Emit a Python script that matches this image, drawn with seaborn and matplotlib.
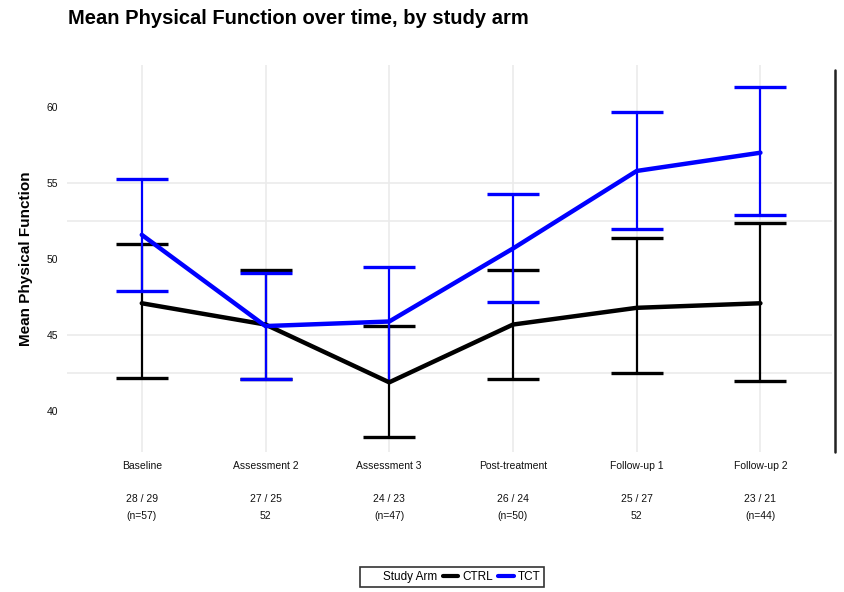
import matplotlib
matplotlib.use("Agg")
import matplotlib.pyplot as plt
from matplotlib.lines import Line2D
import seaborn as sns
import pandas as pd
import numpy as np

# ---- data ----
timepoints = ["Baseline", "Assessment 2", "Assessment 3", "Post-treatment", "Follow-up 1", "Follow-up 2"]
counts_line1 = ["28 / 29", "27 / 25", "24 / 23", "26 / 24", "25 / 27", "23 / 21"]
counts_line2 = ["(n=57)", "52", "(n=47)", "(n=50)", "52", "(n=44)"]
arms = ["CTRL", "TCT"]

ctrl_mean = [47.1, 45.7, 41.9, 45.7, 46.8, 47.1]
ctrl_low = [42.2, 42.1, 38.3, 42.1, 42.5, 42.0]
ctrl_high = [51.0, 49.3, 45.6, 49.3, 51.4, 52.4]

tct_mean = [51.6, 45.6, 45.9, 50.7, 55.8, 57.0]
tct_low = [47.9, 42.1, 41.95, 47.2, 52.0, 52.9]
tct_high = [55.3, 49.1, 49.5, 54.3, 59.7, 61.3]

y_ticks = [40, 45, 50, 55, 60]
grid_y = [42.5, 45, 52.5, 55]

colors = {"CTRL": "#000000", "TCT": "#0000ff"}

df = pd.DataFrame({
    "pos": list(range(len(timepoints))) * 2,
    "mean": ctrl_mean + tct_mean,
    "low": ctrl_low + tct_low,
    "high": ctrl_high + tct_high,
    "arm": [arms[0]] * len(timepoints) + [arms[1]] * len(timepoints),
})

sns.set_theme(style="white")
plt.rcParams["font.family"] = ["Liberation Sans", "DejaVu Sans"]
plt.rcParams["text.color"] = "#000000"

fig = plt.figure(figsize=(8.44, 5.92), dpi=100)
ax = fig.add_axes([0.079, 0.236, 0.907, 0.654])

# gridlines
for gy in grid_y:
    ax.axhline(gy, color="#ebebeb", lw=1.2, zorder=0)
for gx in range(len(timepoints)):
    ax.axvline(gx, color="#ebebeb", lw=1.2, zorder=0)

# error bars
for arm in arms:
    sub = df[df["arm"] == arm]
    eb = ax.errorbar(sub["pos"], sub["mean"],
                     yerr=[sub["mean"] - sub["low"], sub["high"] - sub["mean"]],
                     fmt="none", ecolor=colors[arm], elinewidth=1.6,
                     capsize=19, capthick=2.4, zorder=2)
    if arm == "TCT":
        # the lower cap at the third time point is hidden under the CTRL mean line
        eb[1][0].set_markevery([i for i in range(len(timepoints)) if i != 2])

sns.lineplot(data=df, x="pos", y="mean", hue="arm", palette=colors,
             linewidth=3.2, ax=ax, legend=False, zorder=3)

ax.set_xlim(-0.607, 5.58)
ax.set_ylim(37.3, 62.76)
ax.set_xticks(range(len(timepoints)))
ax.set_xticklabels([f"{t}\n\n{a}\n{b}" for t, a, b in zip(timepoints, counts_line1, counts_line2)],
                   fontsize=7.5, linespacing=1.85)
ax.set_yticks(y_ticks)
ax.set_yticklabels([str(v) for v in y_ticks], fontsize=7.5)
ax.tick_params(axis="both", length=0, pad=6, colors="#111111")
ax.set_xlabel("")
ax.set_ylabel("Mean Physical Function", fontsize=11, fontweight="bold", labelpad=10,
              color="#000000")
for s in ax.spines.values():
    s.set_visible(False)

# right border line
fig.add_artist(Line2D([835 / 844, 835 / 844], [1 - 70 / 592, 1 - 452 / 592],
                      color="#222222", lw=1.8, transform=fig.transFigure))

fig.text(68 / 844, 1 - 19 / 592, "Mean Physical Function over time, by study arm",
         fontsize=14.5, fontweight="bold", va="center", ha="left", color="#000000")

handles = [Line2D([], [], linestyle="none"),
           Line2D([], [], color=colors["CTRL"], lw=3),
           Line2D([], [], color=colors["TCT"], lw=3)]
leg = fig.legend(handles, ["Study Arm", "CTRL", "TCT"], ncol=3,
                 loc="center", bbox_to_anchor=(452 / 844, 1 - 577 / 592),
                 fontsize=8.5, frameon=True, fancybox=False, edgecolor="#000000",
                 handlelength=1.3, handletextpad=0.3, columnspacing=0.5,
                 borderpad=0.35)
leg.get_frame().set_linewidth(1.2)
for t in leg.get_texts():
    t.set_color("#000000")

fig.savefig("out.png", dpi=100)
